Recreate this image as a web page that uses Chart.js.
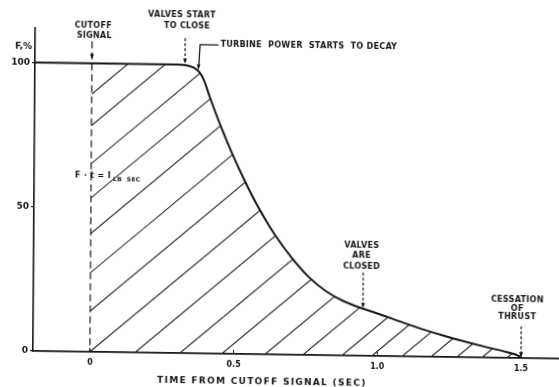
<!DOCTYPE html>
<html>
<head>
<meta charset="utf-8">
<script src="https://cdn.jsdelivr.net/npm/chart.js@4.4.0/dist/chart.umd.min.js"></script>
<style>
  html, body { margin: 0; padding: 0; background: #fff; overflow: hidden; }
  #wrap { width: 559px; height: 387px; }
  /* the scanned original sits slightly skewed on the page */
  #thrustChart { transform-origin: 33px 351px; transform: matrix(1, 0.0145, -0.007, 1, 0, 0); }
</style>
</head>
<body>
<div id="wrap"><canvas id="thrustChart" width="559" height="387"></canvas></div>
<script>
// thrust decay after the cutoff signal
const TIME_S = [-0.198, 0.0, 0.2, 0.30, 0.33, 0.355, 0.375, 0.39, 0.41, 0.45, 0.49, 0.535, 0.58, 0.64, 0.70, 0.76, 0.82, 0.88, 0.95, 1.01, 1.08, 1.16, 1.24, 1.31, 1.38, 1.45, 1.49, 1.5];
const THRUST_PCT = [100, 100, 100, 100, 99.8, 99.0, 97.4, 94.8, 89.2, 78.8, 69.5, 60.0, 51.4, 41.6, 33.6, 27.0, 22.2, 18.9, 16.3, 14.4, 12.0, 9.4, 7.1, 5.3, 3.6, 2.0, 0.8, 0];
const X_TICKS = [0, 0.5, 1.0, 1.5];
const X_TICK_LABELS = ["0", "0.5", "1.0", "1.5"];
const Y_TICKS = [0, 50, 100];
const Y_TICK_LABELS = ["0", "50", "100"];
// where each hatch stroke would meet the time axis (sec)
const HATCH_FEET_T = [-1.055, -0.926, -0.77, -0.63, -0.484, -0.324, -0.167, 0, 0.157, 0.313, 0.459, 0.609, 0.741, 0.877, 0.981, 1.086, 1.187, 1.277, 1.364, 1.451];

const INK = "#161616";
const NOTE_FONT = "bold 8px 'DejaVu Sans'";
const HATCH_SLOPE = 0.85;

const curve = TIME_S.map((t, i) => ({ x: t, y: THRUST_PCT[i] }));

function arrowDown(ctx, x, y) {
  ctx.beginPath();
  ctx.moveTo(x, y);
  ctx.lineTo(x - 2, y - 5);
  ctx.lineTo(x + 2, y - 5);
  ctx.closePath();
  ctx.fill();
}

// hatched impulse area between cutoff and cessation
const hatchPlugin = {
  id: "hatch",
  beforeDatasetsDraw(chart) {
    const ctx = chart.ctx;
    const sx = chart.scales.x, sy = chart.scales.y;
    const area = chart.chartArea;
    const line = chart.getDatasetMeta(0).dataset;
    const x0 = sx.getPixelForValue(0);
    const base = sy.getPixelForValue(0);
    ctx.save();
    ctx.beginPath();
    if (typeof line.path === "function") {
      line.path(ctx);
    } else {
      chart.getDatasetMeta(0).data.forEach((p, i) => (i ? ctx.lineTo(p.x, p.y) : ctx.moveTo(p.x, p.y)));
    }
    ctx.lineTo(sx.getPixelForValue(1.5), base);
    ctx.lineTo(area.left, base);
    ctx.closePath();
    ctx.clip();
    ctx.beginPath();
    ctx.rect(x0, area.top, area.right - x0, base - area.top);
    ctx.clip();
    ctx.strokeStyle = "#262626";
    ctx.lineWidth = 1.1;
    const len = area.right - area.left + 400;
    HATCH_FEET_T.forEach((t) => {
      const fx = sx.getPixelForValue(t);
      ctx.beginPath();
      ctx.moveTo(fx, base);
      ctx.lineTo(fx + len, base - HATCH_SLOPE * len);
      ctx.stroke();
    });
    ctx.restore();
  },
};

const notesPlugin = {
  id: "notes",
  afterDatasetsDraw(chart) {
    const ctx = chart.ctx;
    const sx = chart.scales.x, sy = chart.scales.y;
    const px = (t) => sx.getPixelForValue(t);
    const py = (f) => sy.getPixelForValue(f);
    ctx.save();
    ctx.strokeStyle = INK;
    ctx.fillStyle = INK;

    // small tick marks above the time axis
    ctx.lineWidth = 1;
    X_TICKS.forEach((t) => {
      ctx.beginPath();
      ctx.moveTo(px(t), py(0));
      ctx.lineTo(px(t), py(0) - 4);
      ctx.stroke();
    });

    // cutoff signal dashed line
    ctx.lineWidth = 1.2;
    ctx.setLineDash([7, 4]);
    ctx.beginPath();
    ctx.moveTo(px(0), py(107.7));
    ctx.lineTo(px(0), py(0));
    ctx.stroke();

    // dashed leaders to the curve
    ctx.setLineDash([3, 2]);
    const leaders = [
      [0.324, 109.2, 100.4],
      [0.949, 28.9, 16.6],
      [1.5, 11, 0.3],
    ];
    leaders.forEach(([t, f1, f2]) => {
      ctx.beginPath();
      ctx.moveTo(px(t), py(f1));
      ctx.lineTo(px(t), py(f2) - 4);
      ctx.stroke();
      arrowDown(ctx, px(t), py(f2));
    });
    arrowDown(ctx, px(0), py(101.5));

    // turbine power leader
    ctx.setLineDash([]);
    ctx.lineWidth = 1.3;
    ctx.beginPath();
    ctx.moveTo(px(0.44), py(107));
    ctx.lineTo(px(0.376), py(107));
    ctx.lineTo(px(0.372), py(98.4) - 4);
    ctx.stroke();
    arrowDown(ctx, px(0.371), py(98.4));

    // text notes
    ctx.textBaseline = "middle";
    ctx.font = NOTE_FONT;
    ctx.letterSpacing = "0.3px";
    const notes = [
      ["CUTOFF", 0.004, 112.9, "center"],
      ["SIGNAL", 0.008, 109.5, "center"],
      ["VALVES START", 0.312, 117.2, "center"],
      ["TO CLOSE", 0.33, 113.4, "center"],
      ["TURBINE  POWER  STARTS  TO DECAY", 0.447, 107.0, "left"],
      ["VALVES", 0.943, 38.3, "center"],
      ["ARE", 0.943, 34.8, "center"],
      ["CLOSED", 0.943, 31.0, "center"],
      ["CESSATION", 1.486, 20.0, "center"],
      ["OF", 1.486, 17.1, "center"],
      ["THRUST", 1.486, 14.2, "center"],
    ];
    notes.forEach(([s, t, f, align]) => {
      ctx.textAlign = align;
      ctx.fillText(s, px(t), py(f));
    });

    // impulse label
    ctx.textAlign = "left";
    ctx.fillText("F · t = I", px(-0.056), py(61.0));
    ctx.font = "bold 6px 'DejaVu Sans'";
    ctx.fillText("LB  SEC", px(0.076), py(59.9));

    // y unit
    ctx.font = "bold 9px 'DejaVu Sans'";
    ctx.letterSpacing = "0px";
    ctx.fillText("F,%", px(-0.268), py(105.6));

    // x title
    ctx.textAlign = "center";
    ctx.font = "bold 9px 'DejaVu Sans'";
    ctx.letterSpacing = "1.3px";
    ctx.fillText("TIME FROM CUTOFF SIGNAL (SEC)", px(0.599), py(-9.6));
    ctx.restore();
  },
};

const chart = new Chart(document.getElementById("thrustChart"), {
  type: "line",
  data: {
    datasets: [
      {
        data: curve,
        borderColor: INK,
        borderWidth: 2,
        cubicInterpolationMode: "monotone",
        fill: false,
        pointRadius: 0,
      },
    ],
  },
  options: {
    responsive: false,
    animation: false,
    devicePixelRatio: 1,
    layout: { padding: { top: 28, right: 0, left: 0, bottom: 0 } },
    plugins: { legend: { display: false }, tooltip: { enabled: false } },
    scales: {
      x: {
        type: "linear",
        min: -0.198,
        max: 1.632,
        afterBuildTicks: (axis) => {
          axis.ticks = X_TICKS.map((v) => ({ value: v }));
        },
        afterFit: (axis) => {
          axis.height = 36;
        },
        ticks: {
          callback: (v, i) => X_TICK_LABELS[i],
          color: INK,
          font: { family: "DejaVu Sans", size: 8, weight: "bold" },
          padding: 6,
          maxRotation: 0,
          autoSkip: false,
        },
        grid: { display: false, drawTicks: false },
        border: { display: true, color: INK, width: 1.8 },
      },
      y: {
        min: 0,
        max: 112,
        afterBuildTicks: (axis) => {
          axis.ticks = Y_TICKS.map((v) => ({ value: v }));
        },
        afterFit: (axis) => {
          axis.width = 33;
        },
        ticks: {
          callback: (v, i) => Y_TICK_LABELS[i],
          color: INK,
          font: { family: "DejaVu Sans", size: 9, weight: "bold" },
          padding: 2,
        },
        grid: {
          display: true,
          drawOnChartArea: false,
          drawTicks: true,
          tickLength: 3,
          color: INK,
          lineWidth: 1.2,
        },
        border: { display: true, color: INK, width: 1.6 },
      },
    },
  },
  plugins: [hatchPlugin, notesPlugin],
});
</script>
</body>
</html>
